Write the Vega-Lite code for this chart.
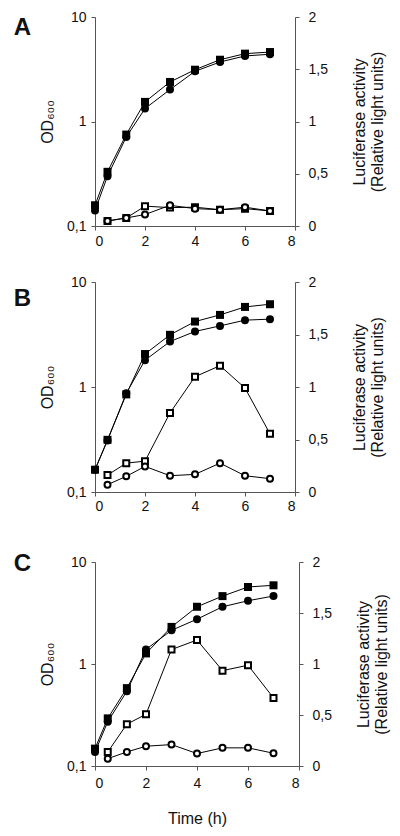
{
  "$schema": "https://vega.github.io/schema/vega-lite/v6.json",
  "padding": {"left": 13, "top": 10, "right": 5, "bottom": 5},
  "background": "white",
  "config": {
    "view": {"stroke": null},
    "font": "Liberation Sans",
    "axis": {"domainColor": "#555", "tickColor": "#555", "labelColor": "#111", "titleColor": "#111", "grid": false, "labelFont": "Liberation Sans", "labelFontSize": 14, "titleFont": "Liberation Sans", "titleFontWeight": "normal", "titleFontSize": 16, "tickSize": 4, "domainWidth": 1, "tickWidth": 1},
    "title": {"orient": "left", "anchor": "end", "angle": 0, "align": "right", "baseline": "top", "offset": -9, "frame": "group", "fontSize": 24, "fontWeight": "bold", "color": "#111", "font": "Liberation Sans"}
  },
  "datasets": {
    "od": [
      {"p": "A", "s": "sq", "t": 0, "v": 0.158}, {"p": "A", "s": "sq", "t": 0.5, "v": 0.33}, {"p": "A", "s": "sq", "t": 1.25, "v": 0.75}, {"p": "A", "s": "sq", "t": 2, "v": 1.54}, {"p": "A", "s": "sq", "t": 3, "v": 2.39}, {"p": "A", "s": "sq", "t": 4, "v": 3.13}, {"p": "A", "s": "sq", "t": 5, "v": 3.9}, {"p": "A", "s": "sq", "t": 6, "v": 4.46}, {"p": "A", "s": "sq", "t": 7, "v": 4.62},
      {"p": "A", "s": "ci", "t": 0, "v": 0.141}, {"p": "A", "s": "ci", "t": 0.5, "v": 0.3}, {"p": "A", "s": "ci", "t": 1.25, "v": 0.71}, {"p": "A", "s": "ci", "t": 2, "v": 1.33}, {"p": "A", "s": "ci", "t": 3, "v": 2.02}, {"p": "A", "s": "ci", "t": 4, "v": 3.02}, {"p": "A", "s": "ci", "t": 5, "v": 3.71}, {"p": "A", "s": "ci", "t": 6, "v": 4.24}, {"p": "A", "s": "ci", "t": 7, "v": 4.4},
      {"p": "B", "s": "sq", "t": 0, "v": 0.163}, {"p": "B", "s": "sq", "t": 0.5, "v": 0.314}, {"p": "B", "s": "sq", "t": 1.25, "v": 0.85}, {"p": "B", "s": "sq", "t": 2, "v": 2.06}, {"p": "B", "s": "sq", "t": 3, "v": 3.14}, {"p": "B", "s": "sq", "t": 4, "v": 4.2}, {"p": "B", "s": "sq", "t": 5, "v": 4.86}, {"p": "B", "s": "sq", "t": 6, "v": 5.79}, {"p": "B", "s": "sq", "t": 7, "v": 6.14},
      {"p": "B", "s": "ci", "t": 0, "v": 0.163}, {"p": "B", "s": "ci", "t": 0.5, "v": 0.31}, {"p": "B", "s": "ci", "t": 1.25, "v": 0.87}, {"p": "B", "s": "ci", "t": 2, "v": 1.8}, {"p": "B", "s": "ci", "t": 3, "v": 2.71}, {"p": "B", "s": "ci", "t": 4, "v": 3.38}, {"p": "B", "s": "ci", "t": 5, "v": 3.82}, {"p": "B", "s": "ci", "t": 6, "v": 4.33}, {"p": "B", "s": "ci", "t": 7, "v": 4.43},
      {"p": "C", "s": "sq", "t": 0, "v": 0.148}, {"p": "C", "s": "sq", "t": 0.5, "v": 0.293}, {"p": "C", "s": "sq", "t": 1.25, "v": 0.58}, {"p": "C", "s": "sq", "t": 2, "v": 1.27}, {"p": "C", "s": "sq", "t": 3, "v": 2.31}, {"p": "C", "s": "sq", "t": 4, "v": 3.64}, {"p": "C", "s": "sq", "t": 5, "v": 4.63}, {"p": "C", "s": "sq", "t": 6, "v": 5.69}, {"p": "C", "s": "sq", "t": 7, "v": 5.91},
      {"p": "C", "s": "ci", "t": 0, "v": 0.137}, {"p": "C", "s": "ci", "t": 0.5, "v": 0.272}, {"p": "C", "s": "ci", "t": 1.25, "v": 0.54}, {"p": "C", "s": "ci", "t": 2, "v": 1.39}, {"p": "C", "s": "ci", "t": 3, "v": 2.14}, {"p": "C", "s": "ci", "t": 4, "v": 2.75}, {"p": "C", "s": "ci", "t": 5, "v": 3.64}, {"p": "C", "s": "ci", "t": 6, "v": 4.17}, {"p": "C", "s": "ci", "t": 7, "v": 4.64}
    ],
    "luc": [
      {"p": "A", "s": "sq", "t": 0.5, "v": 0.048}, {"p": "A", "s": "sq", "t": 1.25, "v": 0.077}, {"p": "A", "s": "sq", "t": 2, "v": 0.19}, {"p": "A", "s": "sq", "t": 3, "v": 0.176}, {"p": "A", "s": "sq", "t": 4, "v": 0.18}, {"p": "A", "s": "sq", "t": 5, "v": 0.156}, {"p": "A", "s": "sq", "t": 6, "v": 0.166}, {"p": "A", "s": "sq", "t": 7, "v": 0.144},
      {"p": "A", "s": "ci", "t": 0.5, "v": 0.048}, {"p": "A", "s": "ci", "t": 1.25, "v": 0.077}, {"p": "A", "s": "ci", "t": 2, "v": 0.11}, {"p": "A", "s": "ci", "t": 3, "v": 0.198}, {"p": "A", "s": "ci", "t": 4, "v": 0.166}, {"p": "A", "s": "ci", "t": 5, "v": 0.156}, {"p": "A", "s": "ci", "t": 6, "v": 0.18}, {"p": "A", "s": "ci", "t": 7, "v": 0.144},
      {"p": "B", "s": "sq", "t": 0.5, "v": 0.161}, {"p": "B", "s": "sq", "t": 1.25, "v": 0.275}, {"p": "B", "s": "sq", "t": 2, "v": 0.294}, {"p": "B", "s": "sq", "t": 3, "v": 0.753}, {"p": "B", "s": "sq", "t": 4, "v": 1.098}, {"p": "B", "s": "sq", "t": 5, "v": 1.203}, {"p": "B", "s": "sq", "t": 6, "v": 0.99}, {"p": "B", "s": "sq", "t": 7, "v": 0.554},
      {"p": "B", "s": "ci", "t": 0.5, "v": 0.07}, {"p": "B", "s": "ci", "t": 1.25, "v": 0.149}, {"p": "B", "s": "ci", "t": 2, "v": 0.244}, {"p": "B", "s": "ci", "t": 3, "v": 0.155}, {"p": "B", "s": "ci", "t": 4, "v": 0.168}, {"p": "B", "s": "ci", "t": 5, "v": 0.275}, {"p": "B", "s": "ci", "t": 6, "v": 0.155}, {"p": "B", "s": "ci", "t": 7, "v": 0.127},
      {"p": "C", "s": "sq", "t": 0.5, "v": 0.138}, {"p": "C", "s": "sq", "t": 1.25, "v": 0.41}, {"p": "C", "s": "sq", "t": 2, "v": 0.507}, {"p": "C", "s": "sq", "t": 3, "v": 1.142}, {"p": "C", "s": "sq", "t": 4, "v": 1.235}, {"p": "C", "s": "sq", "t": 5, "v": 0.935}, {"p": "C", "s": "sq", "t": 6, "v": 0.988}, {"p": "C", "s": "sq", "t": 7, "v": 0.667},
      {"p": "C", "s": "ci", "t": 0.5, "v": 0.072}, {"p": "C", "s": "ci", "t": 1.25, "v": 0.138}, {"p": "C", "s": "ci", "t": 2, "v": 0.194}, {"p": "C", "s": "ci", "t": 3, "v": 0.21}, {"p": "C", "s": "ci", "t": 4, "v": 0.122}, {"p": "C", "s": "ci", "t": 5, "v": 0.178}, {"p": "C", "s": "ci", "t": 6, "v": 0.178}, {"p": "C", "s": "ci", "t": 7, "v": 0.125}
    ]
  },
  "spacing": 39,
  "vconcat": [
    {
      "spacing": 27,
      "vconcat": [
        {
          "title": {"text": "A", "dy": -1},
          "width": 200, "height": 209,
          "layer": [
            {
              "data": {"name": "od"},
              "transform": [{"filter": "datum.p === 'A'"}],
              "encoding": {
                "x": {"field": "t", "type": "quantitative", "scale": {"domain": [0, 8]}, "axis": {"values": [0, 2, 4, 6, 8], "title": null, "labelPadding": 4}},
                "y": {"field": "v", "type": "quantitative", "scale": {"type": "log", "domain": [0.1, 10]}, "axis": {"orient": "left", "values": [0.1, 1, 10], "labelExpr": "replace(format(datum.value, '~g'), '.', ',')", "title": "OD₆₀₀", "titlePadding": 11, "labelPadding": 5}}
              },
              "layer": [
                {"mark": {"type": "line", "color": "black", "strokeWidth": 1}, "encoding": {"detail": {"field": "s"}}},
                {"mark": {"type": "point", "filled": true, "color": "black", "opacity": 1, "size": 64}, "encoding": {"shape": {"field": "s", "scale": {"domain": ["sq", "ci"], "range": ["square", "circle"]}, "legend": null}}}
              ]
            },
            {
              "data": {"name": "luc"},
              "transform": [{"filter": "datum.p === 'A'"}],
              "encoding": {
                "x": {"field": "t", "type": "quantitative", "scale": {"domain": [0, 8]}},
                "y": {"field": "v", "type": "quantitative", "scale": {"domain": [0, 2]}, "axis": {"orient": "right", "values": [0, 0.5, 1, 1.5, 2], "labelExpr": "replace(format(datum.value, '~g'), '.', ',')", "title": ["Luciferase activity", "(Relative light units)"], "titleAngle": 270, "titleLineHeight": 18, "titlePadding": 22, "labelPadding": 9}}
              },
              "layer": [
                {"mark": {"type": "line", "color": "black", "strokeWidth": 1}, "encoding": {"detail": {"field": "s"}}},
                {"mark": {"type": "point", "filled": false, "fill": "white", "stroke": "black", "strokeWidth": 2, "opacity": 1, "size": 36}, "encoding": {"shape": {"field": "s", "scale": {"domain": ["sq", "ci"], "range": ["square", "circle"]}, "legend": null}}}
              ]
            }
          ],
          "resolve": {"scale": {"y": "independent"}}
        },
        {
          "title": {"text": "B", "dy": 5},
          "width": 200, "height": 210,
          "layer": [
            {
              "data": {"name": "od"},
              "transform": [{"filter": "datum.p === 'B'"}],
              "encoding": {
                "x": {"field": "t", "type": "quantitative", "scale": {"domain": [0, 8]}, "axis": {"values": [0, 2, 4, 6, 8], "title": null, "labelPadding": 3}},
                "y": {"field": "v", "type": "quantitative", "scale": {"type": "log", "domain": [0.1, 10]}, "axis": {"orient": "left", "values": [0.1, 1, 10], "labelExpr": "replace(format(datum.value, '~g'), '.', ',')", "title": "OD₆₀₀", "titlePadding": 11, "labelPadding": 5}}
              },
              "layer": [
                {"mark": {"type": "line", "color": "black", "strokeWidth": 1}, "encoding": {"detail": {"field": "s"}}},
                {"mark": {"type": "point", "filled": true, "color": "black", "opacity": 1, "size": 64}, "encoding": {"shape": {"field": "s", "scale": {"domain": ["sq", "ci"], "range": ["square", "circle"]}, "legend": null}}}
              ]
            },
            {
              "data": {"name": "luc"},
              "transform": [{"filter": "datum.p === 'B'"}],
              "encoding": {
                "x": {"field": "t", "type": "quantitative", "scale": {"domain": [0, 8]}},
                "y": {"field": "v", "type": "quantitative", "scale": {"domain": [0, 2]}, "axis": {"orient": "right", "values": [0, 0.5, 1, 1.5, 2], "labelExpr": "replace(format(datum.value, '~g'), '.', ',')", "title": ["Luciferase activity", "(Relative light units)"], "titleAngle": 270, "titleLineHeight": 18, "titlePadding": 22, "labelPadding": 9}}
              },
              "layer": [
                {"mark": {"type": "line", "color": "black", "strokeWidth": 1}, "encoding": {"detail": {"field": "s"}}},
                {"mark": {"type": "point", "filled": false, "fill": "white", "stroke": "black", "strokeWidth": 2, "opacity": 1, "size": 36}, "encoding": {"shape": {"field": "s", "scale": {"domain": ["sq", "ci"], "range": ["square", "circle"]}, "legend": null}}}
              ]
            }
          ],
          "resolve": {"scale": {"y": "independent"}}
        }
      ]
    },
    {
      "title": {"text": "C", "dy": -10},
      "width": 204, "height": 204,
      "layer": [
        {
          "data": {"name": "od"},
          "transform": [{"filter": "datum.p === 'C'"}],
          "encoding": {
            "x": {"field": "t", "type": "quantitative", "scale": {"domain": [0, 8]}, "axis": {"values": [0, 2, 4, 6, 8], "title": "Time (h)", "titlePadding": 20, "labelPadding": 6}},
            "y": {"field": "v", "type": "quantitative", "scale": {"type": "log", "domain": [0.1, 10]}, "axis": {"orient": "left", "values": [0.1, 1, 10], "labelExpr": "replace(format(datum.value, '~g'), '.', ',')", "title": "OD₆₀₀", "titlePadding": 11, "labelPadding": 5}}
          },
          "layer": [
            {"mark": {"type": "line", "color": "black", "strokeWidth": 1}, "encoding": {"detail": {"field": "s"}}},
            {"mark": {"type": "point", "filled": true, "color": "black", "opacity": 1, "size": 64}, "encoding": {"shape": {"field": "s", "scale": {"domain": ["sq", "ci"], "range": ["square", "circle"]}, "legend": null}}}
          ]
        },
        {
          "data": {"name": "luc"},
          "transform": [{"filter": "datum.p === 'C'"}],
          "encoding": {
            "x": {"field": "t", "type": "quantitative", "scale": {"domain": [0, 8]}},
            "y": {"field": "v", "type": "quantitative", "scale": {"domain": [0, 2]}, "axis": {"orient": "right", "values": [0, 0.5, 1, 1.5, 2], "labelExpr": "replace(format(datum.value, '~g'), '.', ',')", "title": ["Luciferase activity", "(Relative light units)"], "titleAngle": 270, "titleLineHeight": 18, "titlePadding": 22, "labelPadding": 9}}
          },
          "layer": [
            {"mark": {"type": "line", "color": "black", "strokeWidth": 1}, "encoding": {"detail": {"field": "s"}}},
            {"mark": {"type": "point", "filled": false, "fill": "white", "stroke": "black", "strokeWidth": 2, "opacity": 1, "size": 36}, "encoding": {"shape": {"field": "s", "scale": {"domain": ["sq", "ci"], "range": ["square", "circle"]}, "legend": null}}}
          ]
        }
      ],
      "resolve": {"scale": {"y": "independent"}}
    }
  ]
}
